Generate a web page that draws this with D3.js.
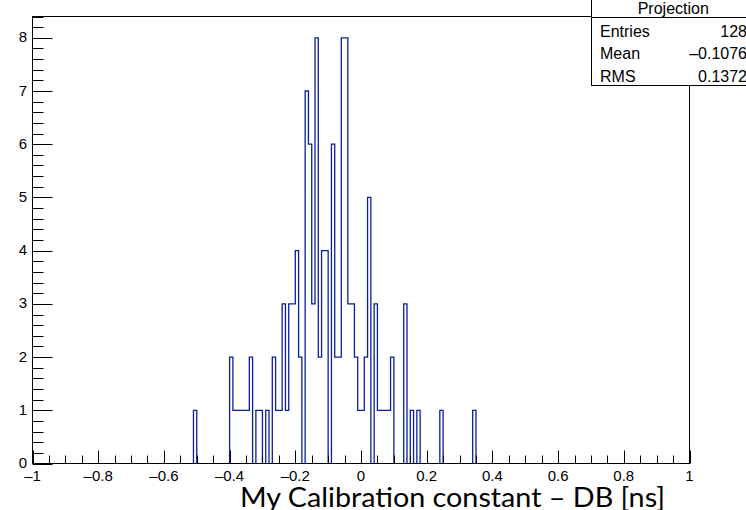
<!DOCTYPE html>
<html>
<head>
<meta charset="utf-8">
<script src="https://cdn.jsdelivr.net/npm/d3@7"></script>
<style>
  html, body { margin: 0; padding: 0; background: #fff; }
  svg { display: block; }
  text { font-family: "Liberation Sans", Arial, Helvetica, sans-serif; }
</style>
</head>
<body>
<svg id="chart" width="746" height="510"></svg>
<script>
// ---- data ----
const binWidth = 0.01;
const binLow = [-0.51, -0.40, -0.39, -0.38, -0.37, -0.36, -0.35, -0.34, -0.32, -0.31, -0.29,
  -0.27, -0.26, -0.25, -0.24, -0.23, -0.22, -0.21, -0.20, -0.19, -0.17, -0.16, -0.15, -0.14,
  -0.13, -0.12, -0.11, -0.09, -0.08, -0.07, -0.06, -0.05, -0.04, -0.03, -0.02, -0.01, 0.00,
  0.01, 0.02, 0.04, 0.05, 0.06, 0.07, 0.08, 0.09, 0.13, 0.15, 0.17, 0.24, 0.34];
const counts = [1, 2, 1, 1, 1, 1, 1, 2, 1, 1, 1,
  2, 1, 1, 3, 1, 3, 3, 4, 2, 7, 6, 3, 8,
  2, 4, 4, 6, 2, 2, 8, 8, 3, 3, 2, 1, 1,
  2, 5, 3, 1, 1, 1, 1, 2, 3, 1, 1, 1, 1];
const xTicksMajor = [-1, -0.8, -0.6, -0.4, -0.2, 0, 0.2, 0.4, 0.6, 0.8, 1];
const xTickLabels = ["–1", "–0.8", "–0.6", "–0.4", "–0.2", "0", "0.2", "0.4", "0.6", "0.8", "1"];
const yTicksMajor = [0, 1, 2, 3, 4, 5, 6, 7, 8];
const statNames = ["Entries", "Mean", "RMS"];
const statValues = ["128", "–0.1076", "0.1372"];
const statTitle = "Projection";
const xTitle = "My Calibration constant – DB [ns]";

// ---- layout ----
const svg = d3.select("#chart");
const L = 32.5, R = 689.5, T = 16.5, B = 463.5;
const x = d3.scaleLinear().domain([-1, 1]).range([L, R]);
const y = d3.scaleLinear().domain([0, 8.4]).range([B, T]);

// frame
svg.append("rect").attr("x", L).attr("y", T).attr("width", R - L).attr("height", B - T)
  .attr("fill", "none").attr("stroke", "#000").attr("stroke-width", 1);

// histogram step path
let p = d3.path();
let prevHi = null;
binLow.forEach((lo, i) => {
  const hi = lo + binWidth;
  const c = counts[i];
  if (prevHi === null || Math.abs(lo - prevHi) > 1e-9) {
    if (prevHi !== null) p.lineTo(x(prevHi), y(0));
    p.moveTo(x(lo), y(0));
  }
  p.lineTo(x(lo), y(c));
  p.lineTo(x(hi), y(c));
  prevHi = hi;
});
p.lineTo(x(prevHi), y(0));
svg.append("path").attr("d", p.toString()).attr("fill", "none")
  .attr("stroke", "#0a1f9c").attr("stroke-width", 1.3);

// x axis ticks
const xMinor = d3.range(-1, 1.0001, 0.05);
const gx = svg.append("g");
xMinor.forEach(v => {
  const isMajor = xTicksMajor.some(m => Math.abs(m - v) < 1e-6);
  const xx = Math.round(x(v)) + 0.5;
  gx.append("line").attr("x1", xx).attr("x2", xx).attr("y1", B).attr("y2", B - (isMajor ? 13 : 8))
    .attr("stroke", "#000").attr("stroke-width", 1);
});
xTicksMajor.forEach((v, i) => {
  gx.append("text").attr("x", x(v)).attr("y", 481).attr("text-anchor", "middle")
    .attr("font-size", 15).text(xTickLabels[i]);
});

// y axis ticks
const yMinor = d3.range(0, 8.4001, 0.2);
const gy = svg.append("g");
yMinor.forEach(v => {
  const isMajor = yTicksMajor.some(m => Math.abs(m - v) < 1e-6);
  const yy = Math.round(y(v)) + 0.5;
  gy.append("line").attr("x1", L).attr("x2", L + (isMajor ? 20 : 11)).attr("y1", yy).attr("y2", yy)
    .attr("stroke", "#000").attr("stroke-width", 1);
});
yTicksMajor.forEach(v => {
  gy.append("text").attr("x", 27).attr("y", y(v) - 1).attr("text-anchor", "end")
    .attr("dominant-baseline", "central").attr("font-size", 15).text(v);
});

// x axis title
svg.append("text").attr("x", 240).attr("y", 507)
  .attr("font-size", 27).style("font-family", "Lato, 'Open Sans', sans-serif")
  .attr("textLength", 425).attr("lengthAdjust", "spacingAndGlyphs")
  .text(xTitle);

// stats box
const sb = svg.append("g");
const bx = 591.5, bRight = 755;
sb.append("rect").attr("x", bx).attr("y", -2).attr("width", bRight - bx).attr("height", 19.5)
  .attr("fill", "#fff").attr("stroke", "#000").attr("stroke-width", 1);
sb.append("rect").attr("x", bx).attr("y", 17.5).attr("width", bRight - bx).attr("height", 68)
  .attr("fill", "#fff").attr("stroke", "#000").attr("stroke-width", 1);
sb.append("text").attr("x", (bx + bRight) / 2).attr("y", 13.5).attr("text-anchor", "middle")
  .attr("font-size", 16).text(statTitle);
statNames.forEach((n, i) => {
  const by = 36.5 + i * 22.5;
  sb.append("text").attr("x", 600).attr("y", by).attr("font-size", 16).text(n);
  sb.append("text").attr("x", 747).attr("y", by).attr("text-anchor", "end")
    .attr("font-size", 16).text(statValues[i]);
});
</script>
</body>
</html>
